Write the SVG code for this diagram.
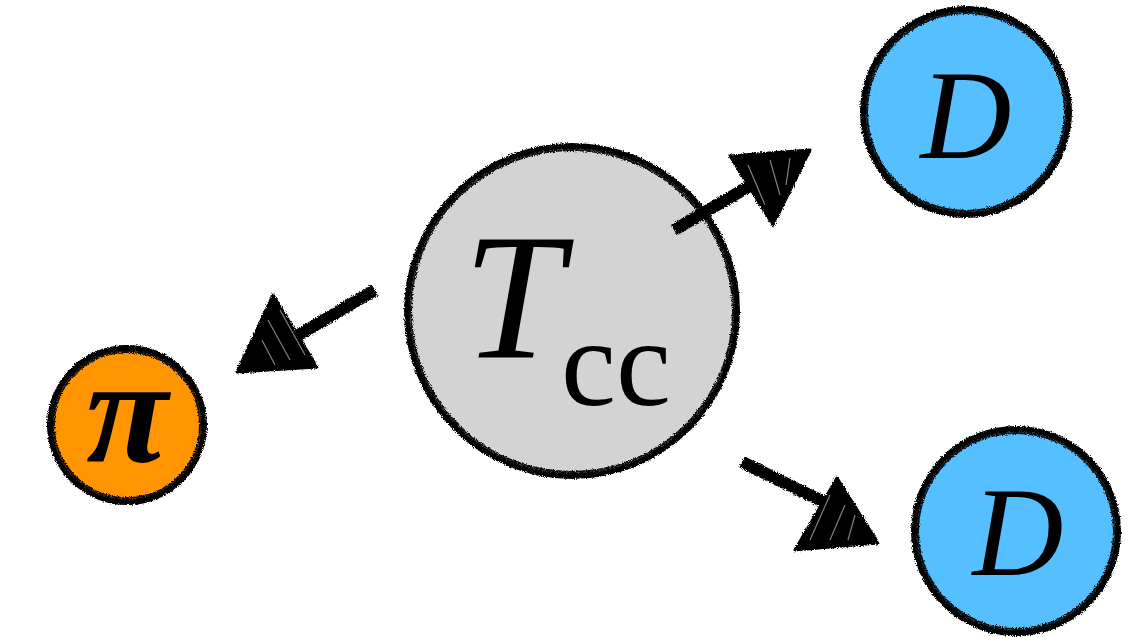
<svg xmlns="http://www.w3.org/2000/svg" width="1128" height="637" viewBox="0 0 1128 637">
<defs>
<filter id="rough" x="-10%" y="-10%" width="120%" height="120%">
<feTurbulence type="fractalNoise" baseFrequency="0.9" numOctaves="2" seed="3" result="n"/>
<feDisplacementMap in="SourceGraphic" in2="n" scale="4" xChannelSelector="R" yChannelSelector="G"/>
</filter>
<style>
.ring{fill:none;stroke:#000;stroke-width:6;filter:url(#rough)}
.ring2{fill:none;stroke:#111;stroke-width:2;filter:url(#rough)}
.shaft{fill:none;stroke:#000;stroke-width:12;stroke-linecap:butt;filter:url(#rough)}
.head{fill:#000;stroke:#000;stroke-width:3;stroke-linejoin:round;filter:url(#rough)}
.hatch{fill:none;stroke:#fff;stroke-width:1.2;opacity:0.5}
text{font-family:'Liberation Serif','DejaVu Serif',serif;fill:#000}
</style>
</defs>
<rect width="1128" height="637" fill="#fff"/>
<g id="node-tcc">
<circle cx="572" cy="311" r="165" fill="#d3d3d3"/>
<circle class="ring" cx="572" cy="311" r="165"/>
<circle class="ring2" cx="572" cy="311" r="161"/>
<text x="463" y="358" font-size="180" font-style="italic">T</text>
<text x="561" y="405" font-size="124">cc</text>
</g>
<g id="node-d1">
<circle cx="966" cy="112" r="103" fill="#56bfff"/>
<circle class="ring" cx="966" cy="112" r="103"/>
<circle class="ring2" cx="966" cy="112" r="99"/>
<text x="966" y="158" font-size="126" font-style="italic" text-anchor="middle">D</text>
</g>
<g id="node-d2">
<circle cx="1016" cy="531" r="102" fill="#56bfff"/>
<circle class="ring" cx="1016" cy="531" r="102"/>
<circle class="ring2" cx="1016" cy="531" r="98"/>
<text x="1018" y="575" font-size="126" font-style="italic" text-anchor="middle">D</text>
</g>
<g id="node-pi">
<circle cx="127" cy="425" r="77" fill="#ff9500"/>
<circle class="ring" cx="127" cy="425" r="77"/>
<circle class="ring2" cx="127" cy="425" r="73"/>
<text x="127" y="462" font-size="150" font-style="italic" font-weight="bold" text-anchor="middle">π</text>
</g>
<g id="connectors">
<g id="arrow-tcc-d1">
<line class="shaft" x1="674" y1="230" x2="760" y2="180"/>
<polygon class="head" points="730,156 810,150 773,225"/>
<path class="hatch" d="M748,165 L765,205 M770,160 L780,195 M790,158 L786,185"/>
</g>
<g id="arrow-tcc-pi">
<line class="shaft" x1="375" y1="290" x2="290" y2="340"/>
<polygon class="head" points="273,295 237,372 317,367"/>
<path class="hatch" d="M268,320 L290,360 M262,340 L275,365 M280,310 L305,355"/>
</g>
<g id="arrow-tcc-d2">
<line class="shaft" x1="742" y1="462" x2="830" y2="505"/>
<polygon class="head" points="837,478 878,543 795,550"/>
<path class="hatch" d="M830,495 L810,540 M845,505 L830,540 M855,515 L848,540"/>
</g>
</g>
</svg>
